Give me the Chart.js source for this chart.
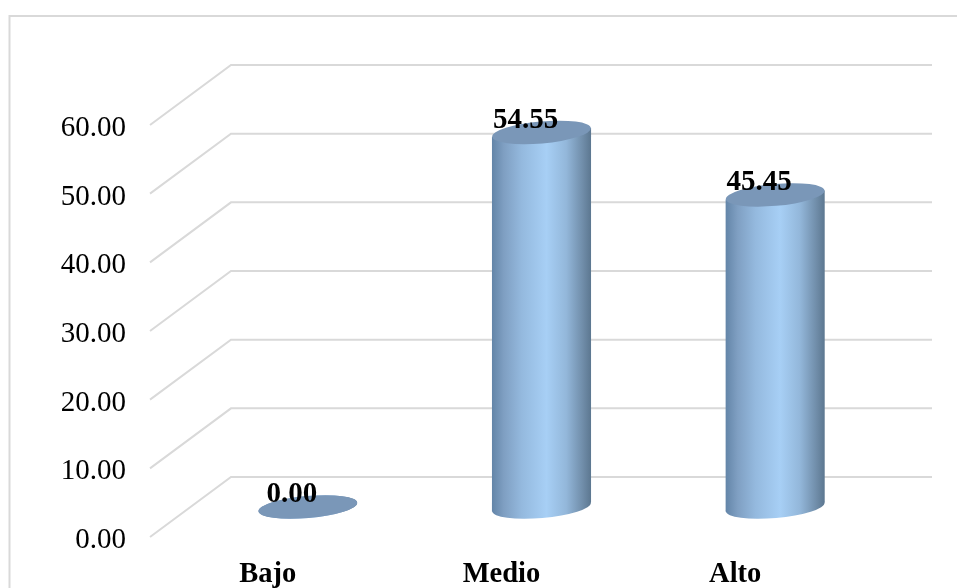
<!DOCTYPE html>
<html>
<head>
<meta charset="utf-8">
<style>
  html, body { margin: 0; padding: 0; background: #fff; overflow: hidden; }
  #chart { display: block; }
</style>
<script src="https://cdn.jsdelivr.net/npm/chart.js@4"></script>
</head>
<body>
<canvas id="chart" width="957" height="588"></canvas>
<script>
const categories = ['Bajo', 'Medio', 'Alto'];
const values = [0.00, 54.55, 45.45];
const yTicks = [0, 10, 20, 30, 40, 50, 60];

const GRID = '#d9d9d9';
const SERIF = '"Liberation Serif", serif';

// Глубина 3D: стена сзади, цилиндры посередине
const WALL_DX = 80, WALL_DY = -60;
const BAR_DX = 40, BAR_DY = -30;
const ELL_H = 11, TILT = -5 * Math.PI / 180;

const wall3d = {
  id: 'wall3d',
  beforeDatasetsDraw(chart) {
    const { ctx, chartArea, scales } = chart;
    ctx.save();
    ctx.strokeStyle = GRID;
    ctx.lineWidth = 2;
    // рамка (только верх и левый край видны)
    ctx.beginPath();
    ctx.moveTo(9.5, 588);
    ctx.lineTo(9.5, 16);
    ctx.lineTo(957, 16);
    ctx.stroke();
    yTicks.forEach(t => {
      const y = scales.y.getPixelForValue(t);
      ctx.beginPath();
      ctx.moveTo(chartArea.left - 1, y);
      ctx.lineTo(chartArea.left + WALL_DX, y + WALL_DY);
      ctx.lineTo(chartArea.right + WALL_DX, y + WALL_DY);
      ctx.stroke();
    });
    ctx.restore();
  }
};

const cylinders = {
  id: 'cylinders',
  afterDatasetsDraw(chart) {
    const { ctx } = chart;
    const meta = chart.getDatasetMeta(0);
    meta.data.forEach((bar, i) => {
      const cx = bar.x + BAR_DX;
      const top = bar.y + BAR_DY;
      const base = bar.base + BAR_DY;
      const a = bar.width / 2;
      const off = 4.5; // смещение краёв эллипса по y из-за наклона

      const g = ctx.createLinearGradient(cx - a, 0, cx + a, 0);
      g.addColorStop(0, '#6385a8');
      g.addColorStop(0.12, '#7f9fc2');
      g.addColorStop(0.3, '#94b9de');
      g.addColorStop(0.55, '#a7cff5');
      g.addColorStop(0.75, '#93b7da');
      g.addColorStop(0.92, '#6f8ca8');
      g.addColorStop(1, '#5c7790');

      ctx.save();
      ctx.fillStyle = g;
      ctx.beginPath();
      ctx.moveTo(cx - a, top + off);
      ctx.lineTo(cx + a, top - off);
      ctx.lineTo(cx + a, base - off);
      ctx.lineTo(cx - a, base + off);
      ctx.closePath();
      ctx.fill();
      ctx.beginPath();
      ctx.ellipse(cx, base, a, ELL_H, TILT, 0, Math.PI * 2);
      ctx.fill();

      ctx.fillStyle = '#7a97b8';
      ctx.beginPath();
      ctx.ellipse(cx, top, a, ELL_H, TILT, 0, Math.PI * 2);
      ctx.fill();

      ctx.fillStyle = '#000';
      ctx.font = 'bold 29px ' + SERIF;
      ctx.textAlign = 'center';
      ctx.textBaseline = 'middle';
      ctx.fillText(values[i].toFixed(2), cx - 16, top - 12);
      ctx.restore();
    });
  }
};

new Chart(document.getElementById('chart'), {
  type: 'bar',
  data: {
    labels: categories,
    datasets: [{
      data: values,
      backgroundColor: 'rgba(0,0,0,0)',
      categoryPercentage: 1,
      barPercentage: 0.424
    }]
  },
  options: {
    responsive: false,
    animation: false,
    layout: { padding: { top: 125, right: 105, left: 0, bottom: 0 } },
    plugins: { legend: { display: false }, tooltip: { enabled: false } },
    scales: {
      x: {
        grid: { display: false },
        border: { display: false },
        afterFit(scale) { scale.height = 51; },
        ticks: {
          color: '#000',
          padding: 13,
          maxRotation: 0,
          font: { family: SERIF, size: 28.5, weight: 'bold' }
        }
      },
      y: {
        min: 0,
        max: 60,
        grid: { display: false, drawTicks: false },
        border: { display: false },
        afterBuildTicks(scale) { scale.ticks = yTicks.map(v => ({ value: v })); },
        afterFit(scale) { scale.width = 151; },
        ticks: {
          color: '#000',
          padding: 25,
          labelOffset: 3.5,
          font: { family: SERIF, size: 29 },
          callback: v => v.toFixed(2)
        }
      }
    }
  },
  plugins: [wall3d, cylinders]
});
</script>
</body>
</html>
